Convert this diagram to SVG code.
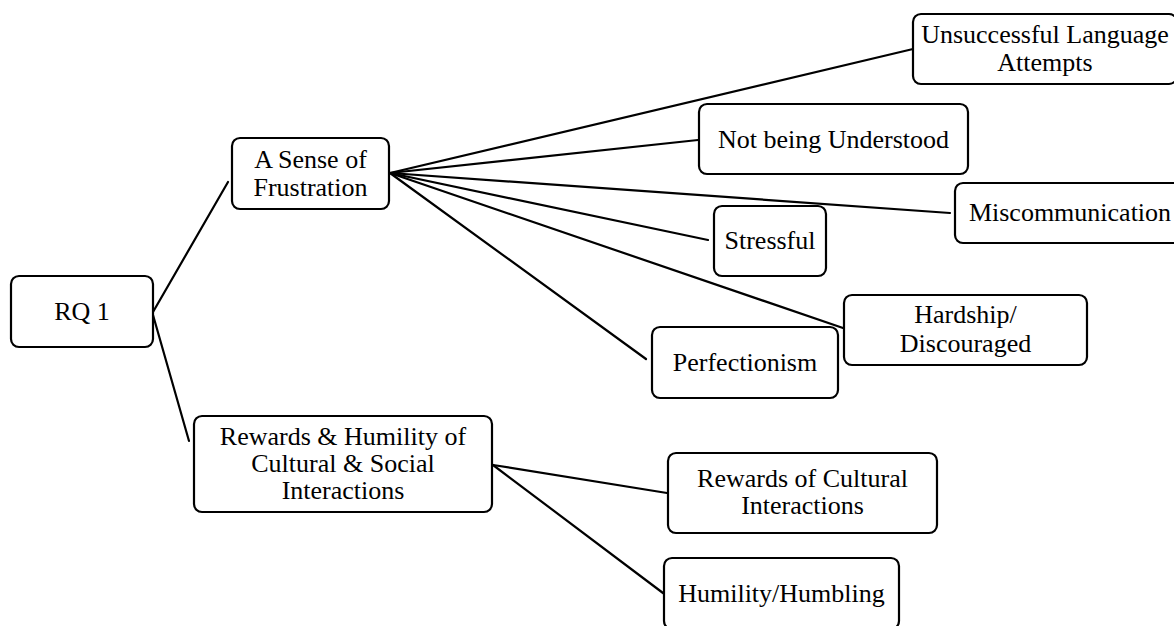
<svg xmlns="http://www.w3.org/2000/svg" width="1174" height="626" viewBox="0 0 1174 626">
<style>
.box{fill:#fff;stroke:#000;stroke-width:2.2}
.lbl{font-family:'Liberation Serif','Times New Roman',Tinos,'DejaVu Serif',serif;font-size:26px;fill:#000;text-anchor:middle}
.conn line{stroke:#000;stroke-width:2.2;stroke-linecap:round}
</style>
<rect width="1174" height="626" fill="#fff"/>
<g class="conn" id="connectors">
<line x1="153" y1="312" x2="228" y2="182"/>
<line x1="153" y1="315" x2="189" y2="441"/>
<line x1="390" y1="173" x2="913" y2="49"/>
<line x1="390" y1="173" x2="698" y2="140"/>
<line x1="390" y1="173" x2="950" y2="213"/>
<line x1="390" y1="173" x2="708" y2="240"/>
<line x1="390" y1="173" x2="843" y2="328"/>
<line x1="390" y1="173" x2="646" y2="359"/>
<line x1="493" y1="465" x2="667" y2="493"/>
<line x1="493" y1="465" x2="663" y2="593"/>
</g>
<g id="rq1"><rect class="box" x="11" y="276" width="142" height="71" rx="8"/><text class="lbl" font-family="Liberation Serif" x="82" y="320">RQ 1</text></g>
<g id="frustration"><rect class="box" x="232" y="138" width="157" height="71" rx="8"/><text class="lbl" x="310.5" y="168">A Sense of</text><text class="lbl" x="310.5" y="196">Frustration</text></g>
<g id="rewards-humility"><rect class="box" x="194" y="416" width="298" height="96" rx="8"/><text class="lbl" x="343" y="445">Rewards &amp; Humility of</text><text class="lbl" x="343" y="472">Cultural &amp; Social</text><text class="lbl" x="343" y="499">Interactions</text></g>
<g id="unsuccessful"><rect class="box" x="913" y="14" width="264" height="70" rx="8"/><text class="lbl" x="1045" y="43">Unsuccessful Language</text><text class="lbl" x="1045" y="71">Attempts</text></g>
<g id="not-understood"><rect class="box" x="699" y="104" width="269" height="70" rx="8"/><text class="lbl" x="833.5" y="148">Not being Understood</text></g>
<g id="miscommunication"><rect class="box" x="955" y="183" width="230" height="60" rx="8"/><text class="lbl" x="1070" y="221">Miscommunication</text></g>
<g id="stressful"><rect class="box" x="714" y="206" width="112" height="70" rx="8"/><text class="lbl" x="770" y="249">Stressful</text></g>
<g id="hardship"><rect class="box" x="844" y="295" width="243" height="70" rx="8"/><text class="lbl" x="965.5" y="323">Hardship/</text><text class="lbl" x="965.5" y="352">Discouraged</text></g>
<g id="perfectionism"><rect class="box" x="652" y="327" width="186" height="71" rx="8"/><text class="lbl" x="745" y="371">Perfectionism</text></g>
<g id="rewards-cultural"><rect class="box" x="668" y="453" width="269" height="80" rx="8"/><text class="lbl" x="802.5" y="487">Rewards of Cultural</text><text class="lbl" x="802.5" y="514">Interactions</text></g>
<g id="humility"><rect class="box" x="664" y="558" width="235" height="71" rx="8"/><text class="lbl" x="781.5" y="602">Humility/Humbling</text></g>
</svg>
